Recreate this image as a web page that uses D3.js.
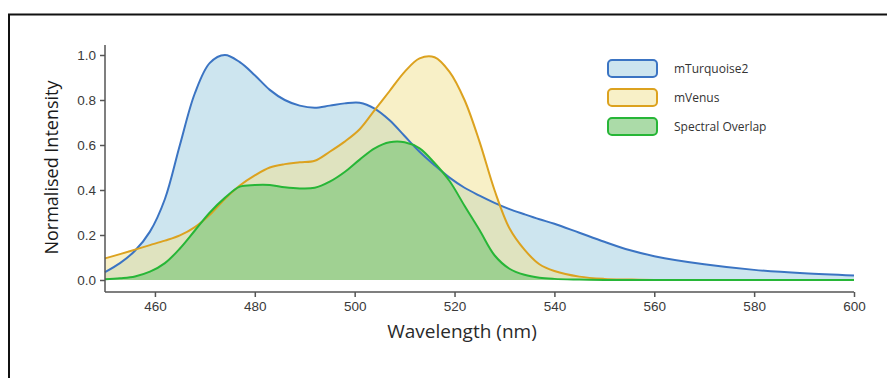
<!DOCTYPE html>
<html>
<head>
<meta charset="utf-8">
<script src="https://cdn.jsdelivr.net/npm/d3@7"></script>
<style>
  body { margin: 0; background: #fff; }
  svg { display: block; font-family: "Open Sans", sans-serif; }
  .tick text { fill: #3a3a3a; font-size: 13.5px; }
</style>
</head>
<body>
<div class="chart"></div>
<script>
// wavelengths (nm) shared by all three curves
var wavelengths = [450, 453, 456, 459, 462, 465, 468, 471, 474, 477, 480, 483, 486, 489, 492, 495, 498,
  501, 504, 507, 510, 513, 516, 519, 522, 525, 528, 531, 534, 537, 540, 545, 550, 555, 560, 570, 580, 590, 600];

var turquoise = [0.035, 0.075, 0.13, 0.215, 0.36, 0.6, 0.83, 0.965, 1.0, 0.968, 0.91, 0.845, 0.8, 0.775, 0.766, 0.775, 0.785,
  0.788, 0.762, 0.71, 0.64, 0.57, 0.51, 0.455, 0.41, 0.375, 0.343, 0.315, 0.292, 0.27, 0.25, 0.21, 0.17, 0.133, 0.106, 0.07, 0.045, 0.03, 0.02];

var venus = [0.096, 0.115, 0.135, 0.155, 0.175, 0.198, 0.235, 0.29, 0.36, 0.42, 0.465, 0.5, 0.515, 0.523, 0.53, 0.57, 0.615,
  0.67, 0.755, 0.84, 0.925, 0.985, 0.99, 0.925, 0.8, 0.615, 0.4, 0.23, 0.135, 0.07, 0.04, 0.015, 0.005, 0.002, 0, 0, 0, 0, 0];

var overlap = [0.003, 0.008, 0.016, 0.037, 0.075, 0.14, 0.22, 0.3, 0.365, 0.415, 0.422, 0.422, 0.412, 0.407, 0.41, 0.437, 0.48,
  0.535, 0.585, 0.612, 0.612, 0.585, 0.52, 0.44, 0.33, 0.222, 0.11, 0.05, 0.023, 0.01, 0.005, 0.002, 0, 0, 0, 0, 0, 0, 0];

var seriesNames = ["mTurquoise2", "mVenus", "Spectral Overlap"];
var xTicks = [460, 480, 500, 520, 540, 560, 580, 600];
var yTicks = [0, 0.2, 0.4, 0.6, 0.8, 1.0];

var styles = [
  { line: "#3b74c3", fill: "#9ccbe0", opacity: 0.5 },
  { line: "#dca21f", fill: "#f2e190", opacity: 0.5 },
  { line: "#27b637", fill: "#7ec77a", opacity: 0.65 }
];

var svgWidth = 887, svgHeight = 378;
var svg = d3.select(".chart").append("svg")
  .attr("width", svgWidth)
  .attr("height", svgHeight);

// outer frame of the original figure
svg.append("rect")
  .attr("x", 9).attr("y", 14.5)
  .attr("width", 900).attr("height", 400)
  .attr("fill", "none").attr("stroke", "#111").attr("stroke-width", 2);

var x = d3.scaleLinear().domain([450, 600]).range([105, 854]);
var y = d3.scaleLinear().domain([0, 1]).range([280, 55]);
var xAxisY = 292;

var data = [turquoise, venus, overlap];

var area = d3.area()
  .x(function (d, i) { return x(wavelengths[i]); })
  .y0(y(0))
  .y1(function (d) { return y(d); })
  .curve(d3.curveCatmullRom.alpha(0.5));

var line = d3.line()
  .x(function (d, i) { return x(wavelengths[i]); })
  .y(function (d) { return y(d); })
  .curve(d3.curveCatmullRom.alpha(0.5));

data.forEach(function (vals, k) {
  svg.append("path")
    .attr("d", area(vals))
    .attr("fill", styles[k].fill)
    .attr("fill-opacity", styles[k].opacity);
});
data.forEach(function (vals, k) {
  svg.append("path")
    .attr("d", line(vals))
    .attr("fill", "none")
    .attr("stroke", styles[k].line)
    .attr("stroke-width", 2);
});

// axes
var xAxis = svg.append("g")
  .attr("transform", "translate(0," + xAxisY + ")")
  .call(d3.axisBottom(x).tickValues(xTicks).tickSize(5).tickSizeOuter(0).tickPadding(4));
var yAxis = svg.append("g")
  .attr("transform", "translate(" + x(450) + ",0)")
  .call(d3.axisLeft(y).tickValues(yTicks).tickFormat(d3.format(".1f")).tickSize(5).tickPadding(4));

[xAxis, yAxis].forEach(function (g) {
  g.select(".domain").remove();
  g.selectAll(".tick line").attr("stroke", "#555").attr("stroke-width", 1.5);
});
svg.append("line")
  .attr("x1", x(450)).attr("x2", x(600))
  .attr("y1", xAxisY).attr("y2", xAxisY)
  .attr("stroke", "#555").attr("stroke-width", 1.5);
svg.append("line")
  .attr("x1", x(450)).attr("x2", x(450))
  .attr("y1", y(1.045)).attr("y2", xAxisY)
  .attr("stroke", "#555").attr("stroke-width", 1.5);

// axis titles
svg.append("text")
  .attr("x", 462).attr("y", 338)
  .attr("text-anchor", "middle")
  .attr("fill", "#2a2a2a")
  .style("font-size", "19px")
  .text("Wavelength (nm)");

svg.append("text")
  .attr("transform", "translate(58," + y(0.5) + ")rotate(-90)")
  .attr("text-anchor", "middle")
  .attr("fill", "#1a1a1a")
  .style("font-size", "18px")
  .text("Normalised Intensity");

// legend
var legend = svg.append("g").attr("transform", "translate(607,59)");
seriesNames.forEach(function (name, k) {
  var row = legend.append("g").attr("transform", "translate(0," + (k * 29) + ")");
  row.append("rect")
    .attr("x", 1).attr("y", 1)
    .attr("width", 49).attr("height", 17)
    .attr("rx", 4)
    .attr("fill", styles[k].fill)
    .attr("fill-opacity", styles[k].opacity)
    .attr("stroke", styles[k].line)
    .attr("stroke-width", 2);
  row.append("text")
    .attr("x", 67).attr("y", 14)
    .attr("fill", "#333")
    .style("font-size", "12px")
    .text(name);
});
</script>
</body>
</html>
